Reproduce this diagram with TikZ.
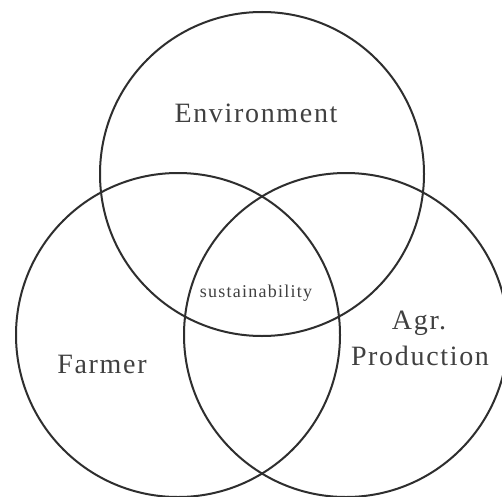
\documentclass[tikz,border=0pt]{standalone}
\usepackage{fontspec}
\setmainfont{Liberation Serif}
\begin{document}
\begin{tikzpicture}[x=1pt,y=1pt,
  ring/.style={draw=black!82, line width=2pt},
  biglabel/.style={text=black!75, font=\fontsize{28}{32}\selectfont\addfontfeature{LetterSpace=6}, inner sep=0pt, anchor=base},
  smalllabel/.style={text=black!75, font=\fontsize{18}{21}\selectfont\addfontfeature{LetterSpace=7}, inner sep=0pt, anchor=base}]
\clip (0,0) rectangle (502,496);
\fill[white] (0,0) rectangle (502,496);
\coordinate (ct) at (262,322);
\coordinate (cl) at (178,161);
\coordinate (cr) at (346,161);
\draw[ring] (ct) circle[radius=162];
\draw[ring] (cl) circle[radius=162];
\draw[ring] (cr) circle[radius=162];
\node[biglabel] (env) at (256,373) {Environment};
\node[biglabel] (farmer) at (102,123) {Farmer};
\node[biglabel] (agr) at (419,167) {Agr.};
\node[biglabel] (prod) at (420,131) {Production};
\node[smalllabel] (sus) at (256,199) {sustainability};
\end{tikzpicture}
\end{document}
